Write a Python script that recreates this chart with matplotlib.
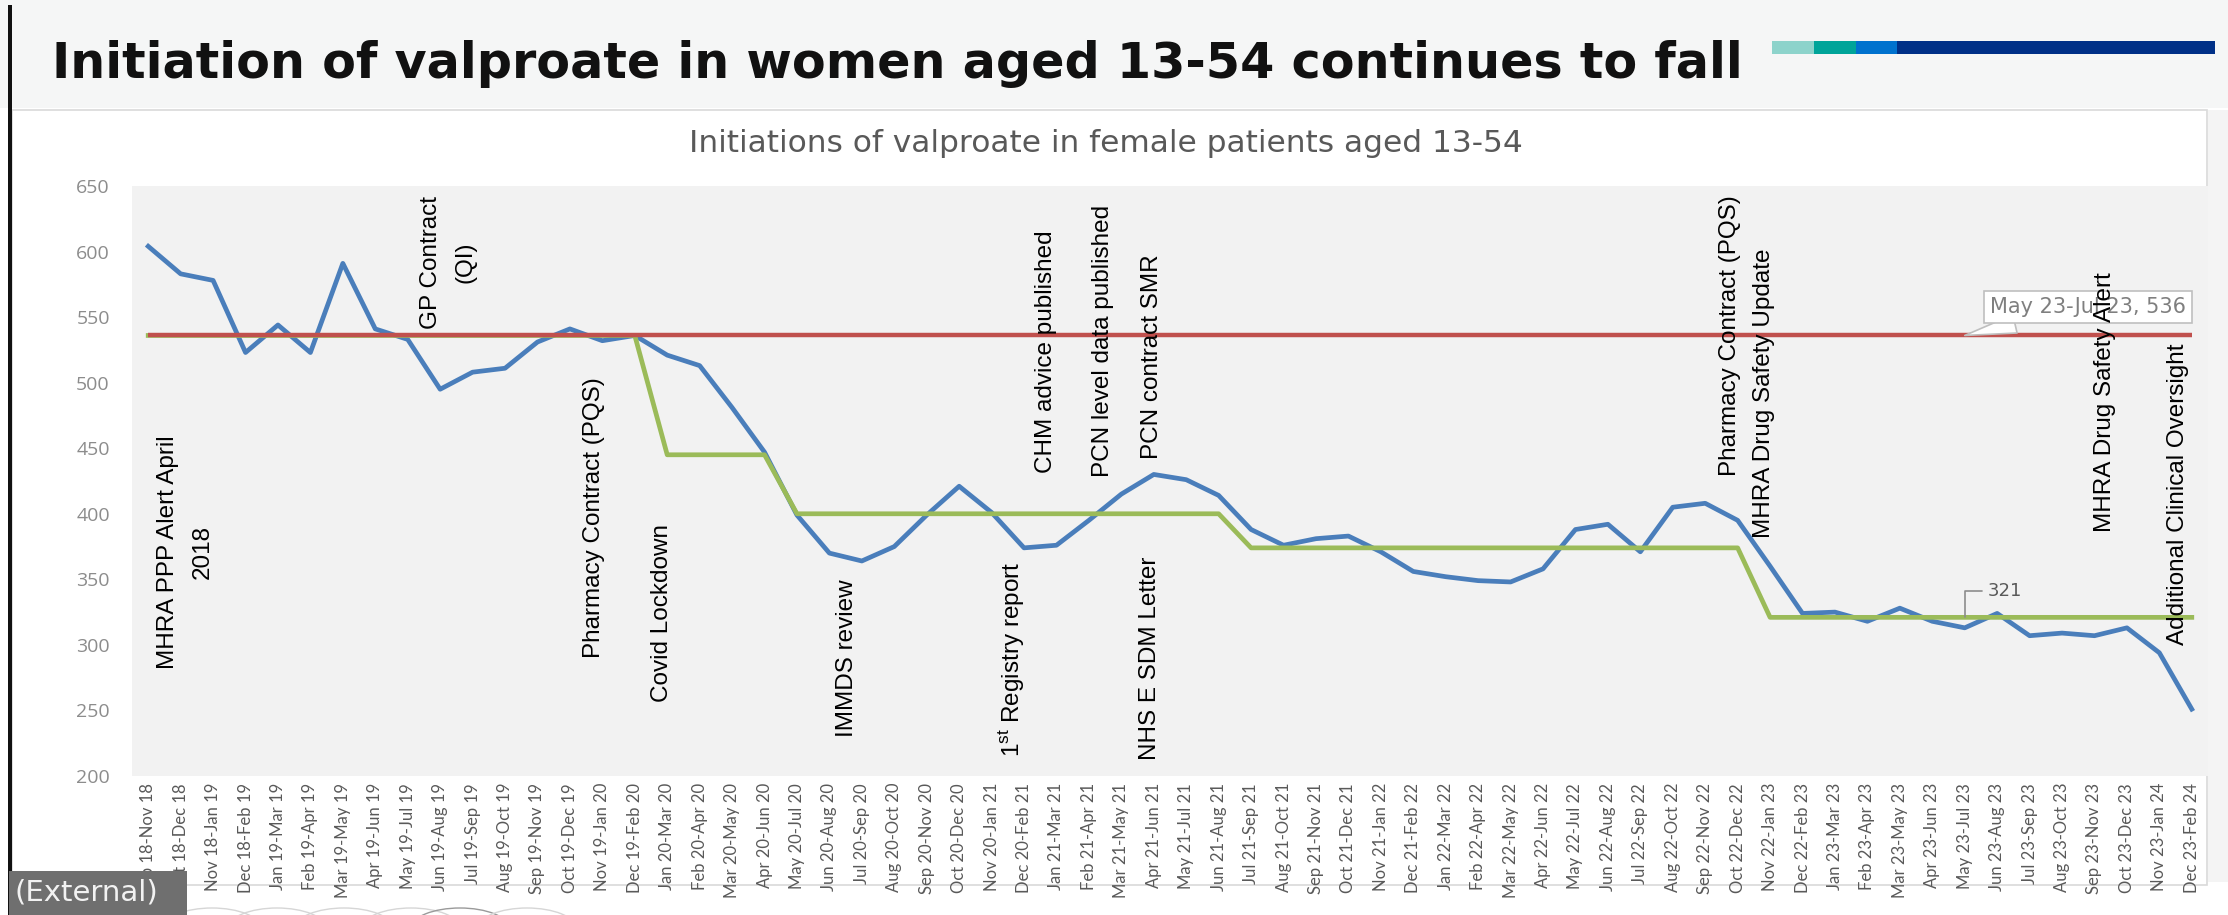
import matplotlib
matplotlib.use("Agg")
import matplotlib.pyplot as plt
from matplotlib import font_manager
from matplotlib.patches import Rectangle, Circle

# rolling 3-month periods on the x axis
periods = [
    "Sep 18-Nov 18", "Oct 18-Dec 18", "Nov 18-Jan 19", "Dec 18-Feb 19",
    "Jan 19-Mar 19", "Feb 19-Apr 19", "Mar 19-May 19", "Apr 19-Jun 19",
    "May 19-Jul 19", "Jun 19-Aug 19", "Jul 19-Sep 19", "Aug 19-Oct 19",
    "Sep 19-Nov 19", "Oct 19-Dec 19", "Nov 19-Jan 20", "Dec 19-Feb 20",
    "Jan 20-Mar 20", "Feb 20-Apr 20", "Mar 20-May 20", "Apr 20-Jun 20",
    "May 20-Jul 20", "Jun 20-Aug 20", "Jul 20-Sep 20", "Aug 20-Oct 20",
    "Sep 20-Nov 20", "Oct 20-Dec 20", "Nov 20-Jan 21", "Dec 20-Feb 21",
    "Jan 21-Mar 21", "Feb 21-Apr 21", "Mar 21-May 21", "Apr 21-Jun 21",
    "May 21-Jul 21", "Jun 21-Aug 21", "Jul 21-Sep 21", "Aug 21-Oct 21",
    "Sep 21-Nov 21", "Oct 21-Dec 21", "Nov 21-Jan 22", "Dec 21-Feb 22",
    "Jan 22-Mar 22", "Feb 22-Apr 22", "Mar 22-May 22", "Apr 22-Jun 22",
    "May 22-Jul 22", "Jun 22-Aug 22", "Jul 22-Sep 22", "Aug 22-Oct 22",
    "Sep 22-Nov 22", "Oct 22-Dec 22", "Nov 22-Jan 23", "Dec 22-Feb 23",
    "Jan 23-Mar 23", "Feb 23-Apr 23", "Mar 23-May 23", "Apr 23-Jun 23",
    "May 23-Jul 23", "Jun 23-Aug 23", "Jul 23-Sep 23", "Aug 23-Oct 23",
    "Sep 23-Nov 23", "Oct 23-Dec 23", "Nov 23-Jan 24", "Dec 23-Feb 24",
]

# initiations of valproate (blue line)
initiations = [
    604, 583, 578, 523, 544, 523, 591, 541, 533, 495, 508, 511, 531, 541,
    532, 536, 521, 513, 481, 447, 399, 370, 364, 375, 399, 421, 401, 374,
    376, 395, 415, 430, 426, 414, 388, 376, 381, 383, 371, 356, 352, 349,
    348, 358, 388, 392, 371, 405, 408, 395, 360, 324, 325, 318, 328, 318,
    313, 324, 307, 309, 307, 313, 294, 251,
]

# stepped median (green line)
median_step = [
    536, 536, 536, 536, 536, 536, 536, 536, 536, 536, 536, 536, 536, 536,
    536, 536, 445, 445, 445, 445, 400, 400, 400, 400, 400, 400, 400, 400,
    400, 400, 400, 400, 400, 400, 374, 374, 374, 374, 374, 374, 374, 374,
    374, 374, 374, 374, 374, 374, 374, 374, 321, 321, 321, 321, 321, 321,
    321, 321, 321, 321, 321, 321, 321, 321,
]

# baseline (red line)
baseline = 536

# event annotations: text, x position (period index), y position
events = [
    ("MHRA PPP Alert April\n2018", 1.14, 371),
    ("GP Contract\n(QI)", 9.25, 592),
    ("Pharmacy Contract (PQS)", 13.75, 397),
    ("Covid Lockdown", 15.84, 324),
    ("IMMDS review", 21.55, 290),
    ("1$^{\\mathrm{st}}$ Registry report", 26.6, 289),
    ("CHM advice published", 27.68, 524),
    ("PCN level data published", 29.43, 532),
    ("PCN contract SMR", 30.95, 520),
    ("NHS E SDM Letter", 30.88, 290),
    ("Pharmacy Contract (PQS)", 48.75, 536),
    ("MHRA Drug Safety Update", 49.8, 492),
    ("MHRA Drug Safety Alert", 60.32, 485),
    ("Additional Clinical Oversight", 62.58, 415),
]

W, H = 2228, 915


def fx(x):
    return x / W


def fy(y):
    return 1 - y / H


names = {f.name for f in font_manager.fontManager.ttflist}
if "Liberation Sans Narrow" in names:
    annot_family = "Liberation Sans Narrow"
    annot_size = 21
    annot_spacing = 1.45
else:
    annot_family = "Liberation Sans"
    annot_size = 17.5
    annot_spacing = 1.75

plt.rcParams["mathtext.fontset"] = "custom"
plt.rcParams["mathtext.rm"] = annot_family

fig = plt.figure(figsize=(W / 100, H / 100), dpi=100, facecolor="white")

# slide decoration
fig.patches.append(Rectangle((0, fy(108)), 1, 108 / H, transform=fig.transFigure,
                             facecolor="#f5f6f6", edgecolor="none", zorder=-2))
fig.patches.append(Rectangle((fx(12), fy(885)), fx(2207 - 12), (885 - 110) / H,
                             transform=fig.transFigure, facecolor="white",
                             edgecolor="#d9d9d9", lw=1.2, zorder=-2))
fig.patches.append(Rectangle((fx(2208), fy(882)), fx(20), (882 - 110) / H,
                             transform=fig.transFigure, facecolor="#f4f4f4",
                             edgecolor="none", zorder=-2))
fig.patches.append(Rectangle((fx(8), 0), fx(4), fy(5), transform=fig.transFigure,
                             facecolor="#111111", edgecolor="none", zorder=-1))

# NHS colour strip, top right
strip = [(1772, 1814, "#8dd3cb"), (1814, 1856, "#00a499"),
         (1856, 1897, "#0072ce"), (1897, 2215, "#003087")]
for x0, x1, c in strip:
    fig.patches.append(Rectangle((fx(x0), fy(54)), fx(x1 - x0), 13 / H,
                                 transform=fig.transFigure, facecolor=c,
                                 edgecolor="none", zorder=-1))

fig.text(fx(52), fy(64), "Initiation of valproate in women aged 13-54 continues to fall",
         ha="left", va="center", fontsize=35.5, fontweight="bold",
         family="DejaVu Sans", color="#111111")

fig.text(fx(1106), fy(143), "Initiations of valproate in female patients aged 13-54",
         ha="center", va="center", fontsize=22.5, family="DejaVu Sans", color="#595959")

# chart
ax = fig.add_axes([fx(132), fy(776), fx(2208 - 132), (776 - 186) / H])
ax.set_zorder(1)
ax.set_facecolor("#f2f2f2")
for s in ax.spines.values():
    s.set_visible(False)

x = list(range(len(periods)))
ax.plot(x, initiations, color="#4a7ebb", lw=3.4, zorder=3, solid_joinstyle="round")
ax.plot(x, median_step, color="#9bbb59", lw=3.4, zorder=4)
ax.hlines(baseline, x[0], x[-1], color="#c0504d", lw=3.2, zorder=5)

ax.set_xlim(-0.5, len(periods) - 0.5)
ax.set_ylim(200, 650)
ax.set_yticks(range(200, 651, 50))
ax.set_xticks(x)
ax.set_xticklabels(periods, rotation=90, fontsize=12, family="Lato", color="#595959")
for lab in ax.get_yticklabels():
    lab.set_family("Open Sans")
    lab.set_fontsize(14)
    lab.set_color("#8c8c8c")
ax.tick_params(axis="y", length=0, pad=16)
ax.tick_params(axis="x", length=0, pad=5)

# data callouts
ax.annotate("May 23-Jul 23, 536", xy=(56, baseline), xytext=(59.8, 557.7),
            ha="center", va="center", fontsize=15, family="DejaVu Sans", color="#7f7f7f",
            bbox=dict(boxstyle="square,pad=0.3", fc="white", ec="#bfbfbf", lw=1.2),
            arrowprops=dict(arrowstyle="wedge,tail_width=0.9,shrink_factor=0.5",
                            fc="white", ec="#bfbfbf", lw=1.2, shrinkA=0, shrinkB=0),
            zorder=6)
ax.annotate("321", xy=(56, median_step[56]), xytext=(56.7, 341),
            ha="left", va="center", fontsize=13, family="DejaVu Sans", color="#595959",
            arrowprops=dict(arrowstyle="-", color="#8c8c8c", lw=1.2, shrinkA=2, shrinkB=0,
                            connectionstyle="angle,angleA=0,angleB=90,rad=0"),
            zorder=6)

# event annotations
for label, ex, ey in events:
    ax.text(ex, ey, label, rotation=90, ha="center", va="center",
            multialignment="center", linespacing=annot_spacing,
            fontsize=annot_size, family=annot_family, color="black", zorder=7)

# footer: "(External)" tag and slide controls
ext_ax = fig.add_axes([fx(9), 0, fx(178), 44 / H])
ext_ax.set_zorder(3)
ext_ax.set_facecolor("#6f6f6f")
ext_ax.set_xticks([])
ext_ax.set_yticks([])
for s in ext_ax.spines.values():
    s.set_visible(False)
ext_ax.text(0.03, 0.5, "(External)", transform=ext_ax.transAxes, ha="left", va="center",
            fontsize=21, family="DejaVu Sans", color="#f2f2f2")
for cx, c in [(212, "#d6d6d6"), (277, "#d6d6d6"), (344, "#d6d6d6"),
              (411, "#d6d6d6"), (460, "#9a9a9a"), (527, "#d6d6d6")]:
    fig.patches.append(Circle((fx(cx), fy(928)), 20 / H, transform=fig.transFigure,
                              facecolor="none", edgecolor=c, lw=1.0, zorder=0))

fig.savefig("out.png", dpi=100)
